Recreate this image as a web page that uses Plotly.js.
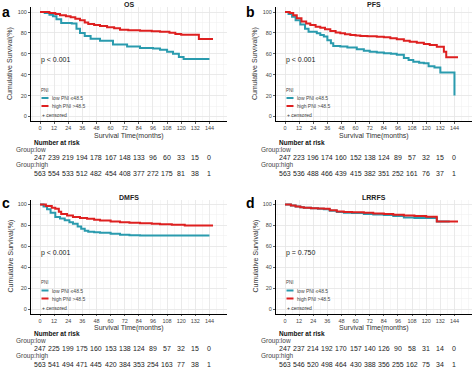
<!DOCTYPE html>
<html>
<head>
<meta charset="utf-8">
<script src="https://cdn.plot.ly/plotly-3.0.1.min.js"></script>
<style>html,body{margin:0;padding:0;background:#fff;}#chart{width:474px;height:369px;}</style>
</head>
<body>
<div id="chart"></div>
<script>
// ---------------- DATA ----------------
const timeTicks = [0, 12, 24, 36, 48, 60, 72, 84, 96, 108, 120, 132, 144];
const survTicks = [0, 20, 40, 60, 80, 100];
const groupNames = ["low PNI \u226448.5", "high PNI >48.5"];
const panelLetters = ["a", "b", "c", "d"];
const panelTitles = ["OS", "PFS", "DMFS", "LRRFS"];
const pValues = ["p < 0.001", "p < 0.001", "p < 0.001", "p = 0.750"];

// OS
const osLowT  = [0, 4, 8, 11, 14, 18, 27, 31, 34, 38, 43, 51, 62, 74, 85, 96, 102, 108, 113, 118, 122, 144];
const osLowS  = [100, 99, 97.5, 96, 93, 89.5, 89, 84, 80, 77, 74.5, 72.5, 69, 67, 65.5, 65, 64, 62, 60, 57, 55, 55];
const osHighT = [0, 8, 13, 17, 22, 26, 30, 34, 38, 41, 46, 51, 57, 63, 68, 75, 85, 95, 102, 110, 115, 120, 135, 147];
const osHighS = [100, 99, 98, 97, 96, 95, 93.5, 92, 90, 88.5, 87.5, 86.5, 85.5, 84.5, 83, 82.5, 82, 81.5, 81.2, 80.2, 79, 78.3, 74.2, 74.2];
// PFS
const pfsLowT  = [0, 3, 6, 9, 13, 17, 20, 27, 30, 33, 36, 39, 41, 47, 53, 61, 67, 72, 78, 84, 90, 95, 101, 105, 109, 114, 118, 122, 127, 132, 144];
const pfsLowS  = [100, 98, 95.5, 92, 88, 84, 81, 79.6, 78, 76.5, 73, 70, 67.5, 67, 66, 64.3, 63, 62, 61.2, 60.5, 60, 59, 56, 54, 52.4, 51.5, 51, 48, 47, 42, 20];
const pfsHighT = [0, 4, 7, 10, 14, 18, 21.5, 26, 30, 34, 38.5, 43, 47, 51, 55.5, 60, 64, 70, 78, 84, 89.5, 95, 101, 106, 112, 118, 123, 129, 135, 137, 147];
const pfsHighS = [100, 99, 97, 94, 91, 89, 87.6, 86, 85, 83.5, 81.8, 80.5, 79.6, 78.8, 78, 77.5, 77, 76.8, 76.4, 75.8, 74.8, 74, 72.5, 71.5, 70.6, 69.5, 68.4, 66.8, 62, 56.6, 56.6];
// DMFS
const dmfsLowT  = [0, 3, 6, 9, 13, 17, 21, 25, 28, 32, 35, 38, 41, 46, 51, 60, 68, 76, 85, 144];
const dmfsLowS  = [100, 98, 95.5, 92, 88, 86.5, 85, 83, 81.5, 79, 76.7, 75, 74, 73.5, 73, 72, 71, 70.6, 70.4, 70.4];
const dmfsHighT = [0, 5, 10, 13, 16, 18, 23, 28, 34, 40, 46, 51, 60, 68, 76, 85, 95, 102, 112, 123, 147];
const dmfsHighS = [100, 98.5, 97, 95.9, 93, 91, 89.5, 88, 87, 86.3, 85.5, 84.7, 83.8, 83.1, 82.6, 82.1, 81.6, 81.2, 80.7, 79.8, 79.8];
// LRRFS
const lrrfsLowT  = [0, 5, 9, 13, 16, 22, 28, 33, 38, 44, 50, 57, 67, 75, 84, 92, 101, 110, 120, 129, 140];
const lrrfsLowS  = [100, 99, 98, 97.5, 96.8, 96.5, 96, 95.5, 94, 92.8, 92.2, 91.8, 91, 90.5, 90, 89, 87.5, 87.2, 87, 83.7, 83.7];
const lrrfsHighT = [0, 5, 9, 13, 16, 22, 28, 33, 38, 44, 50, 57, 67, 75, 84, 92, 101, 110, 120, 129, 147];
const lrrfsHighS = [100, 99, 98, 97.5, 96.8, 96.5, 96.2, 95.9, 94.5, 93.3, 92.8, 92.5, 92, 91.5, 91, 90.3, 89.5, 89, 88.4, 83.7, 83.7];

// Number at risk
const riskOsLow     = [247, 239, 219, 194, 178, 167, 148, 133, 96, 60, 33, 15, 0];
const riskOsHigh    = [563, 554, 533, 512, 482, 454, 408, 377, 272, 175, 81, 38, 1];
const riskPfsLow    = [247, 223, 196, 174, 160, 152, 138, 124, 89, 57, 32, 15, 0];
const riskPfsHigh   = [563, 536, 488, 466, 439, 415, 382, 351, 252, 161, 76, 37, 1];
const riskDmfsLow   = [247, 225, 199, 175, 160, 153, 138, 124, 89, 57, 32, 15, 0];
const riskDmfsHigh  = [563, 541, 494, 471, 445, 420, 384, 353, 254, 163, 77, 38, 1];
const riskLrrfsLow  = [247, 237, 214, 192, 170, 157, 140, 126, 90, 58, 31, 14, 0];
const riskLrrfsHigh = [563, 546, 520, 498, 464, 430, 388, 356, 255, 162, 75, 34, 1];

// ---------------- LAYOUT HELPERS ----------------
const W = 474, H = 369;
const px = x => x / W;
const py = y => 1 - y / H;
const FONT = "Liberation Sans, Arial, Helvetica, sans-serif";
const COL_LOW = "#2a9bae", COL_HIGH = "#de2020";

const panels = [
  {lowT: osLowT, lowS: osLowS, highT: osHighT, highS: osHighS, rl: riskOsLow, rh: riskOsHigh, dx: 0, dy: 0},
  {lowT: pfsLowT, lowS: pfsLowS, highT: pfsHighT, highS: pfsHighS, rl: riskPfsLow, rh: riskPfsHigh, dx: 245, dy: 0},
  {lowT: dmfsLowT, lowS: dmfsLowS, highT: dmfsHighT, highS: dmfsHighS, rl: riskDmfsLow, rh: riskDmfsHigh, dx: 0, dy: 192.5},
  {lowT: lrrfsLowT, lowS: lrrfsLowS, highT: lrrfsHighT, highS: lrrfsHighS, rl: riskLrrfsLow, rh: riskLrrfsHigh, dx: 245, dy: 192.5}
];

const traces = [];
const layout = {
  width: W, height: H,
  margin: {l: 0, r: 0, t: 0, b: 0},
  paper_bgcolor: "#fff", plot_bgcolor: "#fff",
  showlegend: false,
  font: {family: FONT, color: "#222"},
  annotations: [], shapes: []
};

panels.forEach((p, i) => {
  const n = i === 0 ? "" : String(i + 1);
  const xa = "x" + n, ya = "y" + n;
  const dx = p.dx, dy = p.dy;
  const tdy = dy === 0 ? 0 : 191;

  traces.push({x: p.lowT, y: p.lowS, xaxis: xa, yaxis: ya, type: "scatter", mode: "lines",
    line: {shape: "hv", color: COL_LOW, width: 2}, name: groupNames[0]});
  traces.push({x: p.highT, y: p.highS, xaxis: xa, yaxis: ya, type: "scatter", mode: "lines",
    line: {shape: "hv", color: COL_HIGH, width: 2}, name: groupNames[1]});

  layout["xaxis" + n] = {
    domain: [px(31 + dx), px(227 + dx)], anchor: ya,
    range: [-7.65, 158.9], tickmode: "array", tickvals: timeTicks,
    ticktext: timeTicks.map(String),
    showline: true, linecolor: "#000", linewidth: 1,
    ticks: "outside", ticklen: 1.5, tickwidth: 0.8, tickcolor: "#333",
    tickfont: {size: 5.5, color: "#444", family: FONT},
    showgrid: true, gridcolor: "#e4e4e4", gridwidth: 0.7,
    minor: {tickmode: "linear", tick0: 0, dtick: 6, showgrid: true, gridcolor: "#f0f0f0", gridwidth: 0.5},
    zeroline: false, fixedrange: true
  };
  layout["yaxis" + n] = {
    domain: [py(121 + dy), py(7 + dy)], anchor: xa,
    range: [-4.3, 104.8], tickmode: "array", tickvals: survTicks,
    showline: true, linecolor: "#000", linewidth: 1,
    ticks: "outside", ticklen: 2, tickwidth: 0.8, tickcolor: "#333",
    tickfont: {size: 5.5, color: "#444", family: FONT},
    showgrid: true, gridcolor: "#e4e4e4", gridwidth: 0.7,
    minor: {tickmode: "linear", tick0: 0, dtick: 10, showgrid: true, gridcolor: "#f0f0f0", gridwidth: 0.5},
    zeroline: false, fixedrange: true
  };

  const A = layout.annotations;
  const txt = (text, x, y, size, opts) => A.push(Object.assign({
    text: text, x: px(x), y: py(y), xref: "paper", yref: "paper",
    xanchor: "left", yanchor: "middle", showarrow: false,
    font: {size: size, family: FONT, color: "#222"}
  }, opts || {}));

  // panel letter
  txt("<b>" + panelLetters[i] + "</b>", (dx ? 243.5 : -0.5) , 11.5 + (dy ? 191 : 0), 14, {font: {size: 14, family: FONT, color: "#000"}});
  // panel title
  txt("<b>" + panelTitles[i] + "</b>", 129 + dx, 4.5 + dy, 7, {xanchor: "center"});
  // axis titles
  txt("Cumulative Survival(%)", 10 + dx, 64 + dy, 7, {xanchor: "center", textangle: -90, font: {size: 7, family: FONT, color: "#333"}});
  txt("Survival Time(months)", 129 + dx, 135.5 + dy, 7, {xanchor: "center", font: {size: 7, family: FONT, color: "#333"}});
  // p value
  txt(pValues[i], 39 + dx, 60 + dy, 7, {font: {size: 7, family: FONT, color: "#222"}});
  // legend
  txt("PNI", 39 + dx, 90 + dy, 4.5, {font: {size: 4.5, family: FONT, color: "#444"}});
  txt(groupNames[0], 49.5 + dx, 98 + dy, 5, {font: {size: 5, family: FONT, color: "#444"}});
  txt(groupNames[1], 49.5 + dx, 106 + dy, 5, {font: {size: 5, family: FONT, color: "#444"}});
  txt("+ censored", 40 + dx, 115 + dy, 5, {font: {size: 5, family: FONT, color: "#333"}});
  layout.shapes.push({type: "line", xref: "paper", yref: "paper", x0: px(41.5 + dx), x1: px(48.5 + dx), y0: py(98 + dy), y1: py(98 + dy), line: {color: COL_LOW, width: 2}});
  layout.shapes.push({type: "line", xref: "paper", yref: "paper", x0: px(41.5 + dx), x1: px(48.5 + dx), y0: py(106 + dy), y1: py(106 + dy), line: {color: COL_HIGH, width: 2}});

  // number at risk table
  txt("<b>Number at risk</b>", 31.5 + dx, 142.5 + tdy, 6.5, {font: {size: 6.5, family: FONT, color: "#111"}});
  txt("Group:low", 13.5 + dx, 150 + tdy, 6.5, {font: {size: 6.5, family: FONT, color: "#444"}});
  txt("Group:high", 13.5 + dx, 165 + tdy, 6.5, {font: {size: 6.5, family: FONT, color: "#444"}});
  timeTicks.forEach((t, k) => {
    A.push({text: String(p.rl[k]), x: t, xref: xa, y: py(157 + tdy), yref: "paper",
      xanchor: "center", yanchor: "middle", showarrow: false, font: {size: 7, family: FONT, color: "#222"}});
    A.push({text: String(p.rh[k]), x: t, xref: xa, y: py(173 + tdy), yref: "paper",
      xanchor: "center", yanchor: "middle", showarrow: false, font: {size: 7, family: FONT, color: "#222"}});
  });
});

Plotly.newPlot("chart", traces, layout, {displayModeBar: false, staticPlot: true});
</script>
</body>
</html>
